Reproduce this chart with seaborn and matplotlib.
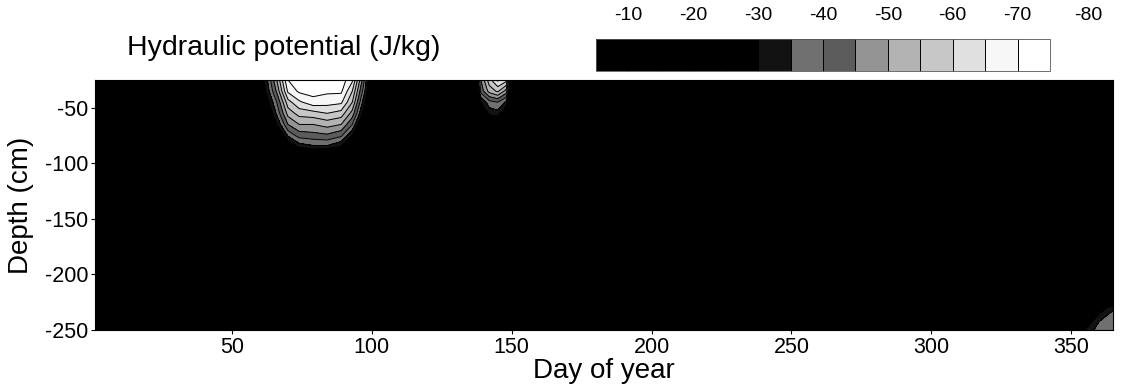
import numpy as np
import pandas as pd
import matplotlib
matplotlib.use("Agg")
import matplotlib.pyplot as plt
import seaborn as sns

sns.set_theme(style="ticks")
plt.rcParams['font.family'] = ['Liberation Sans', 'DejaVu Sans']
plt.rcParams['axes.unicode_minus'] = False
plt.rcParams['contour.negative_linestyle'] = 'solid'
plt.rcParams['text.color'] = 'black'
plt.rcParams['axes.labelcolor'] = 'black'
plt.rcParams['xtick.color'] = 'black'
plt.rcParams['ytick.color'] = 'black'

# hydraulic potential (J/kg)
background = -8.0
day_range = [1, 365]
depth_range = [-25, -250]

# dry spot in the top soil, around day 60-100
b1_days = [57, 62, 66, 70, 74, 79, 84, 89, 93, 97, 102]
b1_depths = [-25, -35, -45, -55, -65, -75, -85, -95]
b1_vals = [
    [-8, -32, -50, -70, -73, -74, -74, -73, -66, -42, -8],
    [-8, -30, -46, -66, -71, -72, -71, -71, -60, -38, -8],
    [-7, -26, -40, -58, -64, -68, -67, -66, -55, -33, -7],
    [-6, -20, -36, -52, -57, -58, -60, -58, -48, -28, -6],
    [-6, -12, -30, -45, -50, -50, -52, -50, -40, -20, -6],
    [-6, -8, -18, -36, -42, -43, -44, -41, -30, -10, -6],
    [-6, -6, -8, -22, -32, -34, -34, -30, -15, -6, -6],
    [-6, -6, -6, -7, -10, -12, -12, -10, -6, -6, -6],
]

# small spot around day 140-148
b2_days = [136, 139, 142, 145, 148, 151]
b2_vals = [
    [-8, -45, -58, -66, -62, -8],
    [-8, -42, -52, -56, -48, -8],
    [-7, -30, -38, -40, -34, -7],
    [-6, -20, -32, -33, -24, -6],
    [-6, -10, -18, -20, -12, -6],
    [-6, -6, -8, -8, -6, -6],
    [-6, -6, -6, -6, -6, -6],
    [-6, -6, -6, -6, -6, -6],
]

# deep corner at the end of the year
b3_days = [348, 355, 360, 365]
b3_depths = [-220, -230, -240, -250]
b3_vals = [
    [-6, -6, -8, -12],
    [-6, -10, -25, -34],
    [-6, -22, -34, -38],
    [-8, -30, -38, -40],
]

levels = [-75, -70, -65, -60, -55, -50, -45, -40, -35, -30, -25, -20, -15, -10, -5]
cbar_ticks = [-10, -20, -30, -40, -50, -60, -70]
extra_tick = -80
x_ticks = [50, 100, 150, 200, 250, 300, 350]
y_ticks = [-50, -100, -150, -200, -250]

# grey of each band, from the lowest level up
band_greys = [1.0, 0.97, 0.88, 0.78, 0.70, 0.58, 0.36, 0.44, 0.07,
              0.0, 0.0, 0.0, 0.0, 0.0]
band_colors = [(g, g, g) for g in band_greys]

days = sorted(set(day_range + b1_days + b2_days + b3_days))
depths = sorted(set(depth_range + b1_depths + b3_depths), reverse=True)
pot = pd.DataFrame(background, index=depths, columns=days)
pot.loc[b1_depths, b1_days] = np.array(b1_vals, dtype=float)
pot.loc[b1_depths, b2_days] = np.array(b2_vals, dtype=float)
pot.loc[b3_depths, b3_days] = np.array(b3_vals, dtype=float)

fig = plt.figure(figsize=(11.35, 3.92), dpi=100)
ax = fig.add_axes([95 / 1135, 1 - 330 / 392, 1018 / 1135, 250 / 392])

cf = ax.contourf(pot.columns, pot.index, pot.values, levels=levels, colors=band_colors)
cl = ax.contour(pot.columns, pot.index, pot.values, levels=levels[1:-1],
                colors='black', linewidths=0.7, linestyles='solid')

ax.set_xlim(1, 365)
ax.set_ylim(-250, -25)
ax.set_xticks(x_ticks)
ax.set_yticks(y_ticks)
ax.tick_params(direction='out', length=3, width=0.8, labelsize=15.5, pad=2, color='black')
for s in ax.spines.values():
    s.set_linewidth(0.8)
    s.set_color('black')
ax.set_xlabel('Day of year', fontsize=20)
ax.set_ylabel('Depth (cm)', fontsize=20)
ax.xaxis.set_label_coords(0.5, -0.11)
ax.yaxis.set_label_coords(-0.06, 0.5)

fig.text(127 / 1135, 1 - 55 / 392, 'Hydraulic potential (J/kg)', fontsize=20.5,
         va='baseline', ha='left')

cax = fig.add_axes([596 / 1135, 1 - 71 / 392, 454 / 1135, 32 / 392])
cbar = fig.colorbar(cf, cax=cax, orientation='horizontal')
cbar.add_lines(cl)
cax.invert_xaxis()
cax.xaxis.set_ticks_position('top')
cbar.set_ticks(cbar_ticks)
cax.tick_params(length=0, labelsize=14, pad=11)
cbar.outline.set_linewidth(0.6)
cbar.outline.set_edgecolor('#555555')
# -80 lies past the end of the bar
xpos = (extra_tick - levels[-1]) / (levels[0] - levels[-1]) + 0.012
cax.text(xpos, 1 + 11 / 0.72 / 32, str(extra_tick), transform=cax.transAxes,
         ha='center', va='bottom', fontsize=14, clip_on=False)

fig.savefig('out.png', dpi=100)
